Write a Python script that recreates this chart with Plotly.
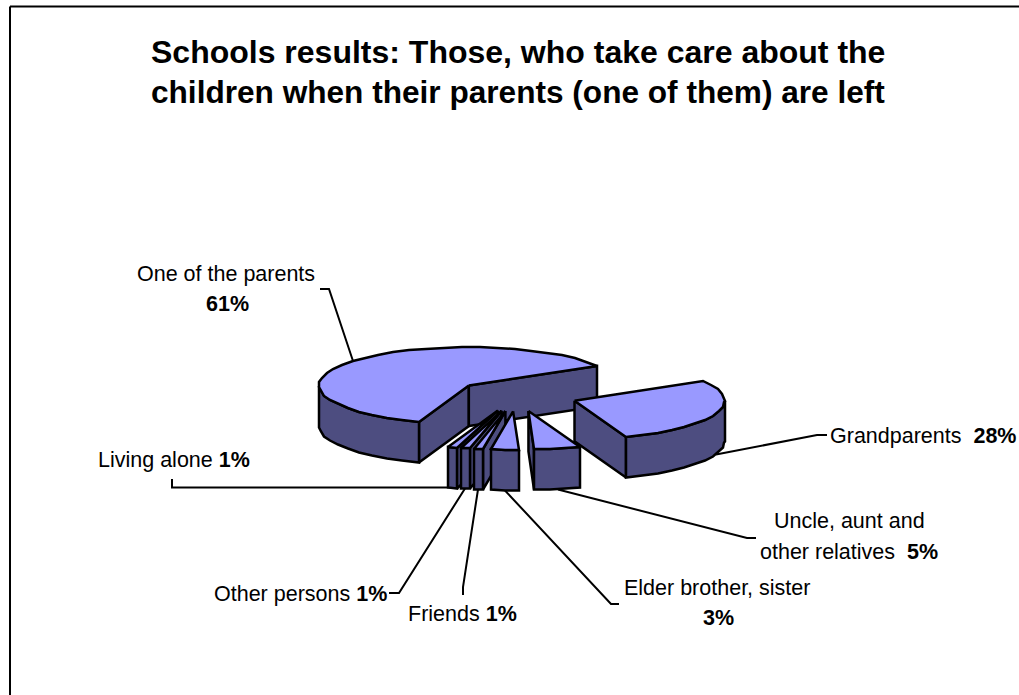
import numpy as np
import plotly.graph_objects as go

# Survey shares, clockwise from the upper right of the pie
categories = ["Grandparents", "Uncle, aunt and other relatives", "Elder brother, sister",
              "Friends", "Other persons", "Living alone", "One of the parents"]
shares = [28, 5, 3, 1, 1, 1, 61]

title_lines = ["Schools results: Those, who take care about the",
               "children when their parents (one of them) are left"]

# Label text per category, one entry per rendered line
label_lines = [
    ["Grandparents\u00a0\u00a0<b>28%</b>"],
    ["Uncle, aunt and", "other relatives\u00a0\u00a0<b>5%</b>"],
    ["Elder brother, sister", "<b>3%</b>"],
    ["Friends <b>1%</b>"],
    ["Other persons <b>1%</b>"],
    ["Living alone <b>1%</b>"],
    ["One of the parents", "<b>61%</b>"],
]
# Centre of each label line on the canvas
label_centres = [
    [(922.5, 436)],
    [(849.5, 521), (849, 552)],
    [(717, 588), (718, 618)],
    [(462.5, 614)],
    [(300.5, 594)],
    [(173.5, 460)],
    [(226, 274), (227, 304)],
]
# Elbow of each leader line, from the label end inward
leader_elbows = [
    [(827, 435), (817, 435)],
    [(756, 538), (747, 538)],
    [(619, 604), (611, 604)],
    [(463, 595), (463, 587)],
    [(389, 593), (399, 593)],
    [(172, 479), (172, 487.5)],
    [(320, 289), (329, 289)],
]

# Projection of the exploded pie
CENTRE_X, CENTRE_Y = 516.5, 395.5
RX, RY = 150.0, 38.5
DEPTH = 40.5
EXPLODE = 0.41
START_DEG = 31.0
RIM_STEP = 7.0
DRAW_ORDER = [6, 0, 5, 4, 3, 2, 1]

TOP_COLOR = "#9999FF"
SIDE_COLOR = "#4D4D80"
EDGE = dict(color="black", width=2.5)

fig = go.Figure()


def polygon(xs, ys, color):
    fig.add_trace(go.Scatter(x=list(xs) + [xs[0]], y=list(ys) + [ys[0]], mode="lines",
                             fill="toself", fillcolor=color, line=EDGE,
                             hoverinfo="skip", showlegend=False))


def rim_xy(cx, cy, deg):
    rad = np.radians(deg)
    return np.round(cx + RX * np.cos(rad)), np.round(cy - RY * np.sin(rad))


# Angular extent and exploded apex of each slice
slices = []
angle = START_DEG
for share in shares:
    sweep = share * 3.6
    mid = angle - sweep / 2
    cx = CENTRE_X + EXPLODE * RX * np.cos(np.radians(mid))
    cy = CENTRE_Y - EXPLODE * RY * np.sin(np.radians(mid))
    slices.append(dict(a0=angle, a1=angle - sweep, mid=mid, cx=cx, cy=cy))
    angle -= sweep

# Leader lines sit beneath the slices
for s, elbows in zip(slices, leader_elbows):
    x, y = rim_xy(s["cx"], s["cy"], s["mid"])
    if np.sin(np.radians(s["mid"])) < 0:
        y += DEPTH
    fig.add_trace(go.Scatter(x=[p[0] for p in elbows] + [x], y=[p[1] for p in elbows] + [y],
                             mode="lines", line=dict(color="black", width=2),
                             hoverinfo="skip", showlegend=False))

for i in DRAW_ORDER:
    s = slices[i]
    cx, cy, a0, a1 = s["cx"], s["cy"], s["a0"], s["a1"]
    # Rim sampled coarsely, with the silhouette turning points kept
    count = max(int(np.ceil((a0 - a1) / RIM_STEP)), 1)
    grid = set(np.linspace(a1, a0, count + 1).tolist())
    for k in (-360, -180, 0, 180, 360):
        if a1 < k < a0:
            grid.add(float(k))
    degs = np.array(sorted(grid, reverse=True))
    rx, ry = rim_xy(cx, cy, degs)

    # Straight cut faces that look toward the viewer
    if np.cos(np.radians(a0)) < 0:
        polygon([cx, rx[0], rx[0], cx], [cy, ry[0], ry[0] + DEPTH, cy + DEPTH], SIDE_COLOR)
    if np.cos(np.radians(a1)) > 0:
        polygon([cx, rx[-1], rx[-1], cx], [cy, ry[-1], ry[-1] + DEPTH, cy + DEPTH], SIDE_COLOR)

    # Front part of the curved wall
    front = np.sin(np.radians(degs)) <= 1e-9
    if front.sum() > 1:
        fx, fy = rx[front], ry[front]
        polygon(np.concatenate([fx, fx[::-1]]), np.concatenate([fy, fy[::-1] + DEPTH]), SIDE_COLOR)

    polygon(np.concatenate([[cx], rx]), np.concatenate([[cy], ry]), TOP_COLOR)

FONT = "Liberation Sans, Arial, sans-serif"
annotations = []
for lines, centres in zip(label_lines, label_centres):
    for text, (x, y) in zip(lines, centres):
        annotations.append(dict(x=x, y=y, xref="x", yref="y", text=text, showarrow=False,
                                xanchor="center", yanchor="middle",
                                font=dict(family=FONT, size=21.5, color="black")))
for text, y, size in zip(title_lines, [52, 92], [32, 31.6]):
    annotations.append(dict(x=518, y=y, xref="x", yref="y", text="<b>" + text + "</b>",
                            showarrow=False, xanchor="center", yanchor="middle",
                            font=dict(family=FONT, size=size, color="black")))

# Chart-area frame, open toward the right and bottom edges of the page
frame = dict(color="black", width=2)
shapes = [
    dict(type="line", xref="x", yref="y", x0=10, y0=6.5, x1=1019, y1=6.5, line=frame),
    dict(type="line", xref="x", yref="y", x0=10, y0=6.5, x1=10, y1=695, line=frame),
]

axis = dict(visible=False, fixedrange=True)
fig.update_layout(
    width=1019, height=695, margin=dict(l=0, r=0, t=0, b=0),
    paper_bgcolor="white", plot_bgcolor="white",
    xaxis=dict(range=[0, 1019], **axis),
    yaxis=dict(range=[695, 0], **axis),
    annotations=annotations, shapes=shapes,
)
fig.write_html("out.html", config=dict(displayModeBar=False))
